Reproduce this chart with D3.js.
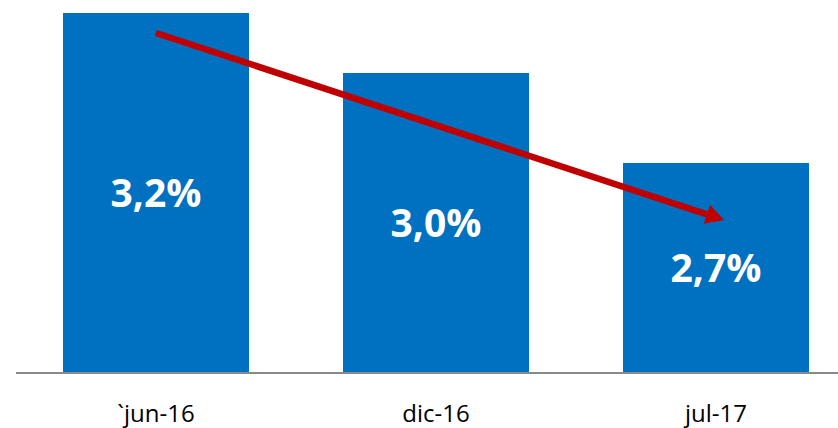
<!DOCTYPE html>
<html>
<head>
<meta charset="utf-8">
<script src="https://cdn.jsdelivr.net/npm/d3@7"></script>
<style>
  body { margin: 0; background: #fff; }
  svg { display: block; font-family: "Open Sans", "Liberation Sans", sans-serif; }
</style>
</head>
<body>
<svg id="chart"></svg>
<script>
// Data
var categories = ['`jun-16', 'dic-16', 'jul-17'];
var values = [3.2, 3.0, 2.7];
var valueLabels = ['3,2%', '3,0%', '2,7%'];

// Setup
var width = 838, height = 428;
var baseY = 373;

var svg = d3.select('#chart').attr('width', width).attr('height', height);

var x = d3.scaleBand().domain(categories).range([-77, 949]).paddingInner(94/280).paddingOuter(0.5);
var y = d3.scaleLinear().domain([2.0, 3.2]).range([baseY, 13]);

// Bars
svg.selectAll('rect.bar').data(values).enter().append('rect')
  .attr('class', 'bar')
  .attr('x', (d, i) => x(categories[i]))
  .attr('y', (d) => y(d))
  .attr('width', x.bandwidth())
  .attr('height', (d) => baseY - y(d))
  .attr('fill', '#0070C0');

// Value labels
svg.selectAll('text.val').data(values).enter().append('text')
  .attr('class', 'val')
  .attr('x', (d, i) => x(categories[i]) + x.bandwidth()/2)
  .attr('y', (d) => (y(d) + baseY)/2)
  .attr('dy', '0.36em')
  .attr('text-anchor', 'middle')
  .attr('fill', '#fff')
  .attr('font-weight', 'bold')
  .attr('font-size', '39px')
  .text((d, i) => valueLabels[i]);

// Axis
svg.append('line')
  .attr('x1', 16).attr('x2', width)
  .attr('y1', baseY).attr('y2', baseY)
  .attr('stroke', '#898989').attr('stroke-width', 2);

svg.selectAll('text.cat').data(categories).enter().append('text')
  .attr('class', 'cat')
  .attr('x', (d) => x(d) + x.bandwidth()/2)
  .attr('y', 422)
  .attr('text-anchor', 'middle')
  .attr('fill', '#000')
  .attr('font-size', '24px')
  .text((d) => d);

// Trend arrow
var x0 = x(categories[0]) + x.bandwidth()/2, y0 = y(values[0]) + 20;
var x1 = x(categories[2]) + x.bandwidth()/2 + 8, y1 = y(values[2]) + 57;
var ang = Math.atan2(y1 - y0, x1 - x0);
var headLen = 18, headW = 10;
var bx = x1 - headLen*Math.cos(ang), by = y1 - headLen*Math.sin(ang);

svg.append('line')
  .attr('x1', x0).attr('y1', y0)
  .attr('x2', bx).attr('y2', by)
  .attr('stroke', '#C00000').attr('stroke-width', 6.5);

svg.append('polygon')
  .attr('points', [
    [x1, y1],
    [bx + headW*Math.sin(ang), by - headW*Math.cos(ang)],
    [bx - headW*Math.sin(ang), by + headW*Math.cos(ang)]
  ].map((p) => p.join(',')).join(' '))
  .attr('fill', '#C00000');
</script>
</body>
</html>
